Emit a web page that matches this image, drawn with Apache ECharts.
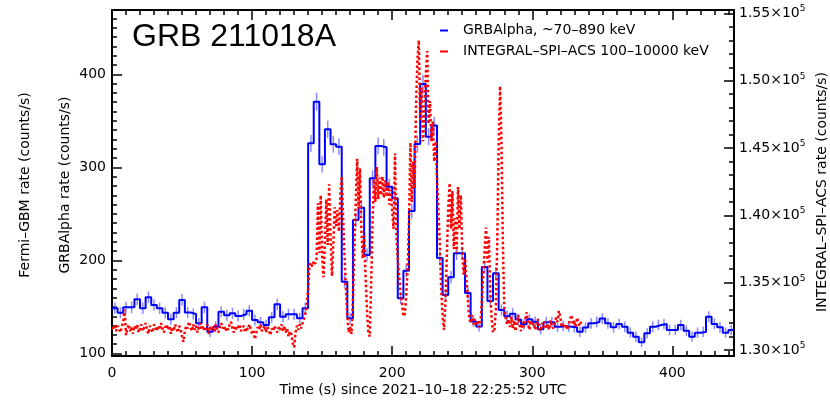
<!DOCTYPE html>
<html><head><meta charset="utf-8">
<script src="https://cdn.jsdelivr.net/npm/echarts@6/dist/echarts.min.js"></script>
<style>html,body{margin:0;padding:0;background:#fff}#c{width:830px;height:400px}</style>
</head><body><div id="c"></div>
<script>
// ---- data ----
const binWidth = 4; // GRBAlpha bin width (s), bins start at t = 0
const grbAlphaRate = [
 148.6,143.8,149.6,149.6,158.2,148.6,160.4,152.1,148.6,143.8,136.7,143.8,157.5,144.0,142.4,132.4,149.6,123.4,128.8,144.9,
 141.0,143.2,140.3,142.1,146.0,136.0,133.5,130.6,138.9,152.9,139.5,142.1,142.1,137.8,148.6,
 325.8,370.6,303.3,340.9,324.8,322.2,177.2,137.8,243.4,256.7,205.8,288.2,323.0,321.6,279.2,266.8,159.3,189.0,253.0,325.0,
 389.5,332.9,345.0,202.5,162.9,181.9,207.7,207.7,165.0,134.5,129.0,193.0,156.5,186.2,146.7,140.0,142.8,136.4,131.4,136.7,
 134.2,126.0,133.5,133.5,128.8,129.5,128.8,128.1,123.4,127.8,132.4,133.9,137.5,132.4,128.1,131.7,128.8,122.4,118.1,112.0,
 121.7,128.8,130.6,131.7,125.2,125.2,130.6,124.5,118.1,122.4,123.1,139.6,131.7,128.1,122.4,125.2
];
const grbAlphaErr = [
 6.1,6.0,6.1,6.1,6.3,6.1,6.3,6.2,6.1,6.0,5.8,6.0,6.3,6.0,6.0,5.8,6.1,5.6,5.7,6.0,5.9,6.0,5.9,6.0,6.0,5.8,5.8,5.7,5.9,6.2,5.9,6.0,6.0,5.9,6.1,
 9.0,9.6,8.7,9.2,9.0,9.0,6.7,5.9,7.8,8.0,7.2,8.5,9.0,9.0,8.4,8.2,6.3,6.9,8.0,9.0,
 9.9,9.1,9.3,7.1,6.4,6.7,7.2,7.2,6.4,5.8,5.7,6.9,6.3,6.8,6.1,5.9,6.0,5.8,5.7,5.8,
 5.8,5.6,5.8,5.8,5.7,5.7,5.7,5.7,5.6,5.7,5.8,5.8,5.9,5.8,5.7,5.7,5.7,5.5,5.4,5.3,
 5.5,5.7,5.7,5.7,5.6,5.6,5.7,5.6,5.4,5.5,5.5,5.9,5.7,5.7,5.5,5.6
];
const acsStep = 1; // INTEGRAL SPI-ACS sampling (s), starts at t = 0
const acsRate = [
 131700,131500,131900,131400,131800,131600,131300,131700,132100,133000,131100,131600,131900,131400,131700,131200,131800,131500,131900,131300,
 131600,131900,131400,131700,132000,131500,131200,131800,131600,131300,131900,131700,131400,131800,131500,132000,131600,131300,131700,131900,
 131500,131800,131200,131700,131400,131900,131600,131300,131800,131500,131000,130600,131400,131800,131600,132100,131700,131400,131900,131500,
 131800,131300,131700,132000,131500,131800,131400,131600,131900,131200,131700,131500,131800,131400,131900,131600,131300,131700,132000,131600,
 131800,131400,131700,131500,131900,132100,131600,131300,131800,131500,131700,131900,131400,131600,131800,131300,131700,131500,131900,131600,
 131200,131400,130800,131300,131700,131500,131900,131400,131600,131800,131300,131700,131500,131100,131600,131400,131800,131500,131300,131700,
 131500,131900,131400,131800,131300,131600,131000,131400,131200,130500,130200,131300,131800,131500,131900,131600,132000,132300,132700,133400,
 134500,136300,136500,136200,136600,136400,136800,140900,137200,141500,136900,135400,138000,141200,137800,142300,138600,135500,137900,140600,
 139200,140400,138800,141500,142900,139800,137000,134500,132500,131300,131700,131200,133800,137500,141000,144200,140500,143500,139000,136800,
 138500,135500,133000,131300,131000,135000,139500,142700,141000,143600,141200,142800,141500,142900,141300,142600,141400,142500,140800,141900,
 140300,139000,144600,138500,136700,135500,134200,133500,132500,132700,134000,136000,139500,145400,141000,144000,142000,148000,151500,153000,
 147000,149500,145500,147500,150500,152200,146800,148500,145500,147000,144000,145500,142800,140300,138000,134500,132500,131500,133500,137000,
 140500,142400,139000,141800,137500,139800,137200,142100,139000,141500,137300,135600,136800,135300,133800,132400,132000,132600,131900,132300,
 131800,132200,131700,132000,133500,135500,137500,139100,136500,138400,134500,132300,131300,131500,133000,138000,145000,149600,145500,138000,
 133200,132400,131900,132300,131700,132500,131600,132200,131400,132000,132600,131800,131400,132100,131700,132300,132800,131900,131500,132200,
 131800,132000,131500,131900,132300,131600,131400,132000,131700,132100,131600,131900,131500,132200,131800,131600,132000,132400,132100,132900,
 132500,131700,132000,131600,131900,131500,131800,132300,132600,131900,132200,131700,132400,132000,131800,132100
];
const xTickLabels = [0, 100, 200, 300, 400];
const leftTickLabels = [100, 200, 300, 400];
const rightTickLabels = [130000, 135000, 140000, 145000, 150000, 155000];
const blueName = 'GRBAlpha, ~70–890 keV';
const redName = 'INTEGRAL–SPI–ACS 100–10000 keV';

// ---- chart ----
const FONT = 'DejaVu Sans';
const black = '#000';
const tickStyle = {color: black, width: 1.5};
const chart = echarts.init(document.getElementById('c'), null, {renderer: 'canvas'});

function tickAxis(o) {
  return Object.assign({
    type: 'value', splitLine: {show: false},
    axisLine: {show: false, onZero: false},
    axisLabel: {show: false}
  }, o);
}
const hiddenX = g => ({gridIndex: g, type: 'value', show: false, min: 0, max: 1, axisLine: {onZero: false}});

const blueData = grbAlphaRate.map((v, k) => [k * binWidth, v]);
blueData.push([grbAlphaRate.length * binWidth, grbAlphaRate[grbAlphaRate.length - 1]]);
const errData = grbAlphaRate.map((v, k) => [k * binWidth + binWidth / 2, v, grbAlphaErr[k]]);
const redData = acsRate.map((v, i) => [i * acsStep, v]);

const option = {
  animation: false,
  backgroundColor: '#fff',
  textStyle: {fontFamily: FONT},
  grid: [
    {left: 112, right: 96, top: 10, bottom: 44},
    {left: 112, right: 96, top: 18.45, bottom: 46.5},
    {left: 112, right: 96, top: 74.29, bottom: 46.5},
    {left: 112, right: 96, top: 13.42, bottom: 50}
  ],
  xAxis: [
    tickAxis({gridIndex: 0, position: 'bottom', min: 0, max: 444, interval: 10,
      axisLine: {show: true, onZero: false, lineStyle: {color: black, width: 2}},
      axisTick: {inside: true, length: 5, lineStyle: tickStyle},
      axisLabel: {show: true, margin: 10, color: black, fontSize: 14, fontFamily: FONT,
        formatter: v => xTickLabels.includes(v) ? String(v) : ''}}),
    tickAxis({gridIndex: 0, position: 'bottom', min: 0, max: 444, interval: 100,
      axisTick: {inside: true, length: 10, lineStyle: tickStyle}}),
    tickAxis({gridIndex: 0, position: 'top', min: 0, max: 444, interval: 10,
      axisLine: {show: true, onZero: false, lineStyle: {color: black, width: 2}},
      axisTick: {inside: true, length: 5, lineStyle: tickStyle}}),
    tickAxis({gridIndex: 0, position: 'top', min: 0, max: 444, interval: 100,
      axisTick: {inside: true, length: 10, lineStyle: tickStyle}}),
    hiddenX(1), hiddenX(2), hiddenX(3)
  ],
  yAxis: [
    tickAxis({gridIndex: 0, position: 'left', min: 97.3, max: 469.1,
      axisLine: {show: true, onZero: false, lineStyle: {color: black, width: 2}}, axisTick: {show: false}}),
    tickAxis({gridIndex: 0, position: 'right', min: 129554, max: 155254,
      axisLine: {show: true, onZero: false, lineStyle: {color: black, width: 2}}, axisTick: {show: false}}),
    tickAxis({gridIndex: 1, position: 'left', min: 100, max: 460, interval: 10,
      axisTick: {inside: true, length: 5, lineStyle: tickStyle}}),
    tickAxis({gridIndex: 2, position: 'left', min: 100, max: 400, interval: 100,
      axisTick: {inside: true, length: 10, lineStyle: tickStyle},
      axisLabel: {show: true, margin: 6, color: black, fontSize: 14, fontFamily: FONT,
        formatter: v => leftTickLabels.includes(v) ? String(v) : ''}}),
    tickAxis({gridIndex: 3, position: 'right', min: 130000, max: 155000, interval: 1000,
      axisTick: {inside: true, length: 5, lineStyle: tickStyle}}),
    tickAxis({gridIndex: 3, position: 'right', min: 130000, max: 155000, interval: 5000,
      axisTick: {inside: true, length: 10, lineStyle: tickStyle},
      axisLabel: {show: true, margin: 5, color: black, fontFamily: FONT,
        formatter: v => rightTickLabels.includes(v) ? '{m|' + (v / 1e5).toFixed(2) + '×10}{s|5}' : '',
        rich: {m: {fontSize: 14, color: black, fontFamily: FONT, lineHeight: 18},
               s: {fontSize: 9, color: black, fontFamily: FONT, verticalAlign: 'top', lineHeight: 18}}}})
  ],
  legend: {
    orient: 'vertical', left: 435, top: 18.5, itemGap: 7, itemWidth: 8, itemHeight: 2,
    icon: 'rect', selectedMode: false,
    textStyle: {fontSize: 14, color: black, fontFamily: FONT, padding: [0, 0, 0, 10]},
    data: [blueName, redName]
  },
  series: [
    {type: 'custom', xAxisIndex: 0, yAxisIndex: 0, silent: true, z: 2, data: errData,
      renderItem: (params, api) => {
        const x = api.value(0), v = api.value(1), e = api.value(2);
        const p1 = api.coord([x, v - e]), p2 = api.coord([x, v + e]);
        return {type: 'line', shape: {x1: p1[0], y1: p1[1], x2: p2[0], y2: p2[1]},
          style: {stroke: '#8a8aff', lineWidth: 1.5}};
      }},
    {name: blueName, type: 'line', xAxisIndex: 0, yAxisIndex: 0, step: 'end', z: 3,
      data: blueData, showSymbol: false, symbol: 'none', color: '#0000ff',
      lineStyle: {color: '#0000ff', width: 2}},
    {name: redName, type: 'line', xAxisIndex: 0, yAxisIndex: 1, z: 4,
      data: redData, showSymbol: false, symbol: 'none', color: '#ff0000',
      lineStyle: {color: '#ff0000', width: 2.5, type: [2.5, 2.5]}}
  ],
  graphic: [
    {type: 'text', left: 132, top: 21, style: {text: 'GRB 211018A', font: '32px "Liberation Sans"', fill: black}},
    {type: 'text', x: 25, y: 185, rotation: Math.PI / 2,
      style: {text: 'Fermi–GBM rate (counts/s)', font: '14px "DejaVu Sans"', fill: black, align: 'center', verticalAlign: 'middle'}},
    {type: 'text', x: 65, y: 185, rotation: Math.PI / 2,
      style: {text: 'GRBAlpha rate (counts/s)', font: '14px "DejaVu Sans"', fill: black, align: 'center', verticalAlign: 'middle'}},
    {type: 'text', x: 822, y: 192, rotation: Math.PI / 2,
      style: {text: 'INTEGRAL–SPI–ACS rate (counts/s)', font: '14px "DejaVu Sans"', fill: black, align: 'center', verticalAlign: 'middle'}},
    {type: 'text', x: 423, y: 390,
      style: {text: 'Time (s) since 2021–10–18 22:25:52 UTC', font: '14px "DejaVu Sans"', fill: black, align: 'center', verticalAlign: 'middle'}}
  ]
};
chart.setOption(option);
</script></body></html>
